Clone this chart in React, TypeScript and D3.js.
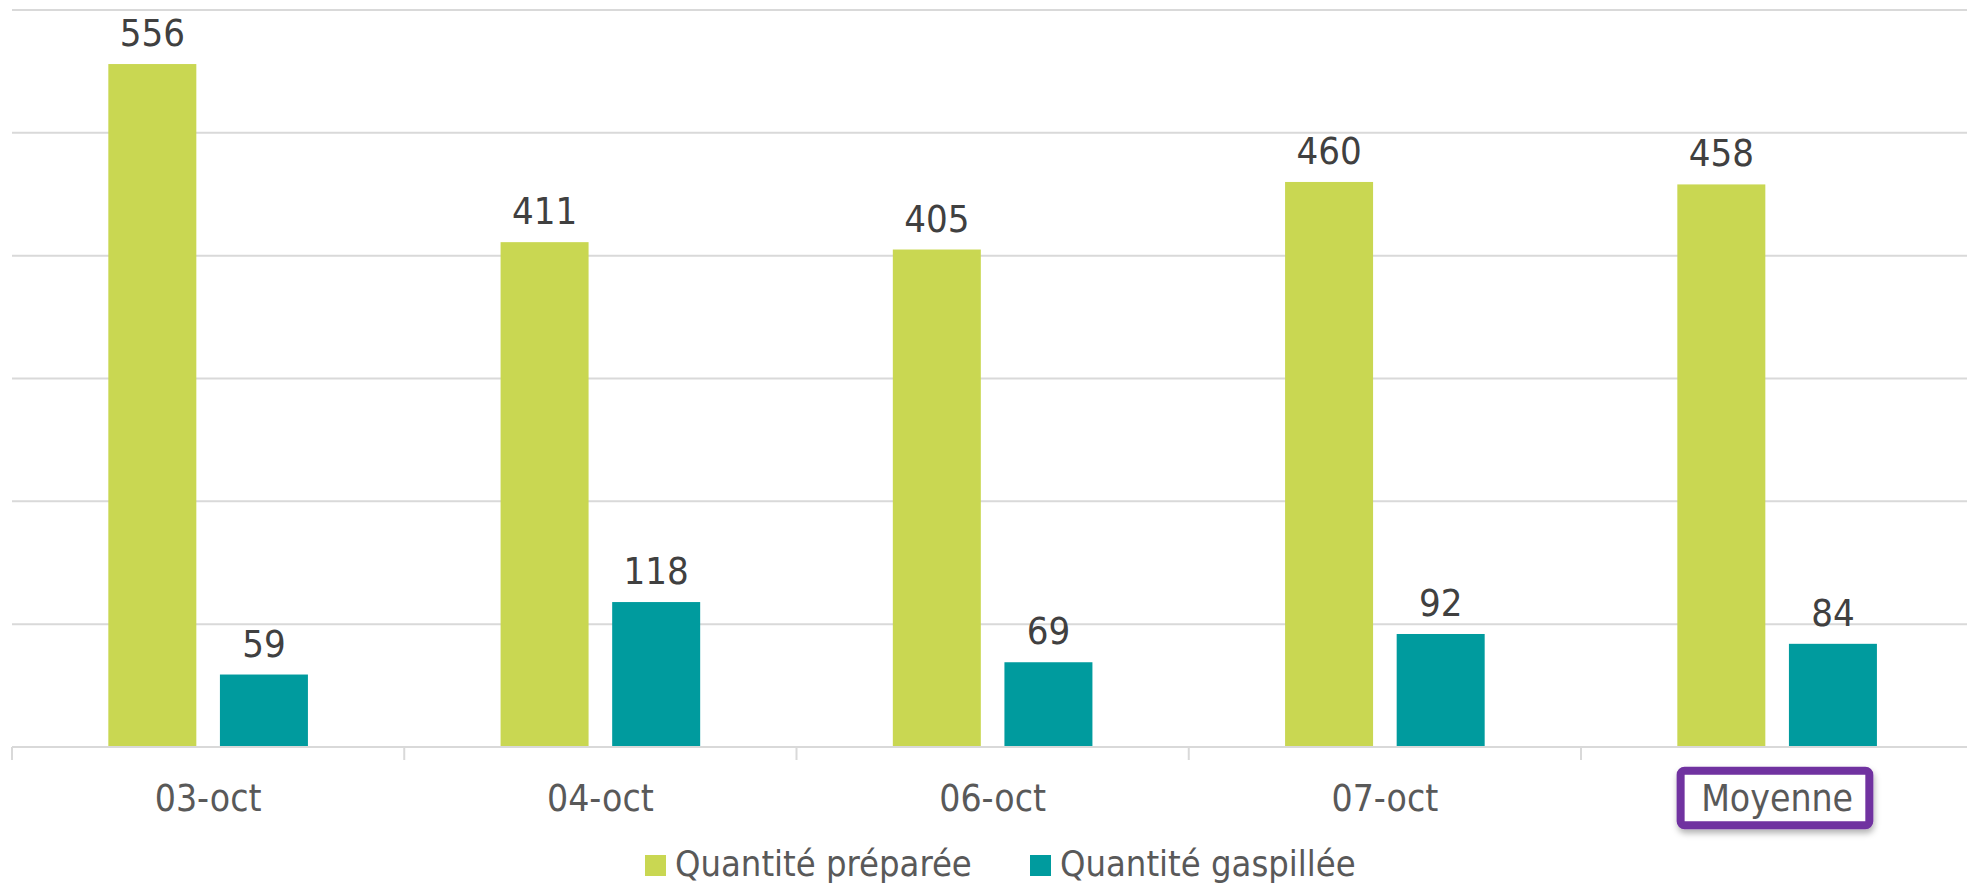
import React from "react";
import * as d3 from "d3";

// Categories and series values
const categories = ["03-oct", "04-oct", "06-oct", "07-oct", "Moyenne"];
const seriesNames = ["Quantité préparée", "Quantité gaspillée"];
const prepared = [556, 411, 405, 460, 458];
const wasted = [59, 118, 69, 92, 84];
const yTicks = [0, 100, 200, 300, 400, 500, 600];
const highlighted = "Moyenne";

const colors: Record<string, string> = {
  "Quantité préparée": "#C9D752",
  "Quantité gaspillée": "#009B9E",
};

const W = 1967;
const H = 885;
const FONT = "'DejaVu Sans Condensed', 'DejaVu Sans', sans-serif";

export default function App() {
  const x0 = d3.scaleBand<string>().domain(categories).range([12, 1973.25]).padding(0);
  const groupW = 199.6;
  const x1 = d3
    .scaleBand<string>()
    .domain(seriesNames)
    .range([0, groupW])
    .paddingInner(0.2115)
    .paddingOuter(0);
  const y = d3.scaleLinear().domain([0, 600]).range([747, 10]);

  const rows = categories.map((c, i) => ({
    cat: c,
    values: [
      { s: seriesNames[0], v: prepared[i] },
      { s: seriesNames[1], v: wasted[i] },
    ],
  }));

  const legendX = [645, 1030];

  return (
    <svg
      width={W}
      height={H}
      style={{ position: "absolute", left: 0, top: 0, background: "#fff" }}
    >
      <defs>
        <filter id="boxShadow" x="-20%" y="-30%" width="140%" height="170%">
          <feDropShadow dx="1" dy="4" stdDeviation="3" floodColor="#000" floodOpacity="0.3" />
        </filter>
      </defs>
      {/* gridlines */}
      {yTicks.slice(1).map((t) => (
        <line key={t} x1={12} x2={W} y1={y(t)} y2={y(t)} stroke="#D9D9D9" strokeWidth={2} />
      ))}
      {/* bars */}
      {rows.map((r) => {
        const gx = (x0(r.cat) as number) + (x0.bandwidth() - groupW) / 2;
        return (
          <g key={r.cat} transform={`translate(${gx},0)`}>
            {r.values.map((d) => (
              <g key={d.s}>
                <rect
                  x={x1(d.s)}
                  y={y(d.v)}
                  width={x1.bandwidth()}
                  height={y(0) - y(d.v)}
                  fill={colors[d.s]}
                />
                <text
                  x={(x1(d.s) as number) + x1.bandwidth() / 2}
                  y={y(d.v) - 18}
                  textAnchor="middle"
                  fontFamily={FONT}
                  fontSize={38}
                  fill="#404040"
                >
                  {d.v}
                </text>
              </g>
            ))}
          </g>
        );
      })}
      {/* x axis */}
      <line x1={12} x2={W} y1={y(0)} y2={y(0)} stroke="#D9D9D9" strokeWidth={2} />
      {categories.map((c) => (
        <line
          key={"t" + c}
          x1={x0(c) as number}
          x2={x0(c) as number}
          y1={y(0)}
          y2={y(0) + 13}
          stroke="#D9D9D9"
          strokeWidth={2}
        />
      ))}
      {categories.map((c) => {
        const cx = (x0(c) as number) + x0.bandwidth() / 2;
        return (
          <g key={"l" + c}>
            {c === highlighted && (
              <rect
                x={cx - 96.5}
                y={770.7}
                width={188.7}
                height={54.6}
                rx={4}
                fill="#fff"
                stroke="#7030A0"
                strokeWidth={8}
                filter="url(#boxShadow)"
              />
            )}
            <text
              x={cx}
              y={811}
              textAnchor="middle"
              fontFamily={FONT}
              fontSize={37}
              fill="#595959"
            >
              {c}
            </text>
          </g>
        );
      })}
      {/* legend */}
      {seriesNames.map((s, i) => (
        <g key={"lg" + s}>
          <rect x={legendX[i]} y={855} width={21} height={21} fill={colors[s]} />
          <text
            x={legendX[i] + 30}
            y={876}
            fontFamily={FONT}
            fontSize={36}
            fill="#595959"
          >
            {s}
          </text>
        </g>
      ))}
    </svg>
  );
}
